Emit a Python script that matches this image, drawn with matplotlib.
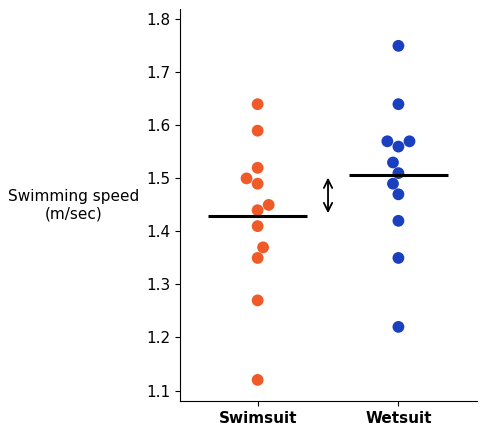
import matplotlib.pyplot as plt
import seaborn as sns
import pandas as pd
import numpy as np

swimsuit = [1.64, 1.59, 1.52, 1.50, 1.49, 1.45, 1.44, 1.41, 1.37, 1.35, 1.27, 1.12]
wetsuit = [1.75, 1.64, 1.57, 1.57, 1.56, 1.53, 1.51, 1.49, 1.47, 1.42, 1.35, 1.22]
groups = ["Swimsuit", "Wetsuit"]
colors = ["#F05A28", "#1A3FBF"]

df = pd.DataFrame({
    "suit": ["Swimsuit"] * len(swimsuit) + ["Wetsuit"] * len(wetsuit),
    "speed": swimsuit + wetsuit,
})

fig = plt.figure(figsize=(4.87, 4.36), dpi=100)
ax = fig.add_axes([0.37, 0.08, 0.61, 0.9])
sns.swarmplot(data=df, x="suit", y="speed", hue="suit", palette=colors,
              size=8.5, ax=ax, legend=False, order=groups)

means = [np.mean(swimsuit), np.mean(wetsuit)]
for i, m in enumerate(means):
    ax.hlines(m, i - 0.35, i + 0.35, color="black", lw=2.2, zorder=5)

ax.annotate("", xy=(0.5, means[1]), xytext=(0.5, means[0]),
            arrowprops=dict(arrowstyle="<->", color="black", lw=1.3, mutation_scale=15))

ax.set_xlim(-0.55, 1.56)
ax.set_ylim(1.08, 1.82)
ax.set_yticks(np.arange(1.1, 1.81, 0.1))
ax.tick_params(labelsize=11)
for lbl in ax.get_xticklabels():
    lbl.set_fontweight("bold")
ax.set_xlabel("")
ax.set_ylabel("Swimming speed\n(m/sec)", rotation=0, fontsize=11, ha="center", va="center")
ax.yaxis.set_label_coords(-0.36, 0.5)
ax.spines["top"].set_visible(False)
ax.spines["right"].set_visible(False)

fig.savefig("out.png")
